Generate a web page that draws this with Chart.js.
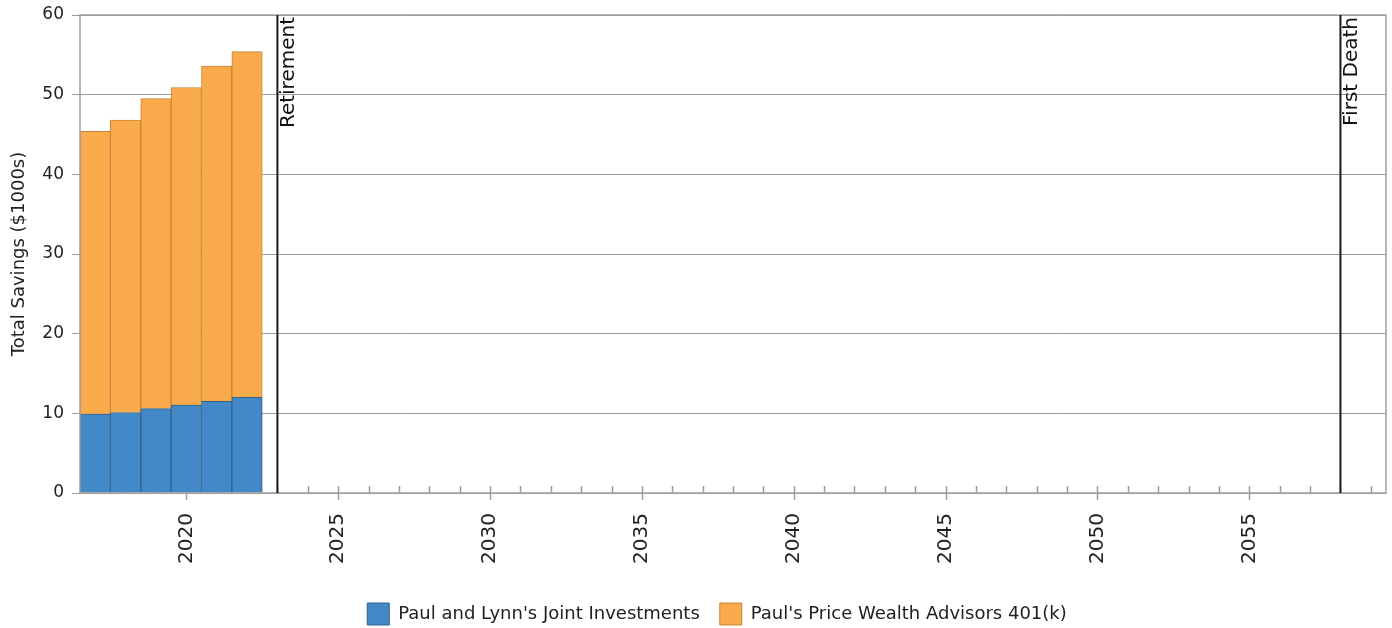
<!DOCTYPE html>
<html>
<head>
<meta charset="utf-8">
<script src="https://cdn.jsdelivr.net/npm/chart.js@4/dist/chart.umd.min.js"></script>
<style>
    html, body { margin: 0; padding: 0; background: #fff; }
    #wrap { width: 1392px; height: 628px; }
</style>
</head>
<body>
<div id="wrap"><canvas id="savingsChart" width="1392" height="628"></canvas></div>
<script>
// Savings projection - stacked bars per year

const years = [2017, 2018, 2019, 2020, 2021, 2022];
const jointInvestments = [9.9, 10.1, 10.6, 11.05, 11.5, 12.0];
const price401k = [35.5, 36.7, 38.9, 39.85, 42.1, 43.4];

const seriesLabels = ["Paul and Lynn's Joint Investments", "Paul's Price Wealth Advisors 401(k)"];

const tickYears = [];
for (let y = 2017; y <= 2059; y++) tickYears.push(y);

const eventYears = [2023, 2058];
const eventLabels = ['Retirement', 'First Death'];

const colors = {
    joint: '#4389c7',
    jointBorder: '#33608a',
    price: '#f9aa4b',
    priceBorder: '#c98535'
};

const gridColor = '#9a9a9a';
const textColor = '#222';

// Plot frame, year tick marks and the event lines
const decorPlugin = {
    id: 'decor',
    afterLayout(chart) {
        // legend sits a bit right of the canvas centre
        chart.legend.left += 24;
        chart.legend.right += 24;
    },
    beforeDatasetsDraw(chart) {
        const ctx = chart.ctx;
        const area = chart.chartArea;
        const x = chart.scales.x;

        // year ticks: every year inside, every 5 years crossing the axis
        ctx.save();
        ctx.strokeStyle = gridColor;
        ctx.lineWidth = 1.5;
        tickYears.forEach(v => {
            const px = Math.round(x.getPixelForValue(v)) + 0.5;
            const major = v % 5 === 0;
            ctx.beginPath();
            ctx.moveTo(px, area.bottom - 7);
            ctx.lineTo(px, area.bottom + (major ? 7 : 0));
            ctx.stroke();
        });
        ctx.restore();
    },
    afterDatasetsDraw(chart) {
        const ctx = chart.ctx;
        const area = chart.chartArea;
        const x = chart.scales.x;

        ctx.save();
        // frame
        ctx.strokeStyle = '#a0a0a0';
        ctx.lineWidth = 1.5;
        ctx.strokeRect(area.left, area.top, area.right - area.left, area.bottom - area.top);

        // event lines
        ctx.strokeStyle = '#1a1a1a';
        ctx.lineWidth = 2;
        ctx.fillStyle = '#111';
        ctx.font = '20px "DejaVu Sans"';
        eventYears.forEach((v, i) => {
            const px = x.getPixelForValue(v);
            ctx.beginPath();
            ctx.moveTo(px, area.top);
            ctx.lineTo(px, area.bottom);
            ctx.stroke();

            ctx.save();
            ctx.translate(px + 1, area.top + 2);
            ctx.rotate(-Math.PI / 2);
            ctx.textAlign = 'right';
            ctx.textBaseline = 'top';
            ctx.fillText(eventLabels[i], 0, 0);
            ctx.restore();
        });
        ctx.restore();
    }
};

function renderChart() {
    const ctx = document.getElementById('savingsChart');

    new Chart(ctx, {
        type: 'bar',
        data: {
            datasets: [
                {
                    label: seriesLabels[0],
                    data: years.map((yr, i) => ({ x: yr, y: jointInvestments[i] })),
                    backgroundColor: colors.joint,
                    borderColor: colors.jointBorder,
                    borderWidth: 1,
                    barPercentage: 1,
                    categoryPercentage: 1
                },
                {
                    label: seriesLabels[1],
                    data: years.map((yr, i) => ({ x: yr, y: price401k[i] })),
                    backgroundColor: colors.price,
                    borderColor: colors.priceBorder,
                    borderWidth: 1,
                    barPercentage: 1,
                    categoryPercentage: 1
                }
            ]
        },
        options: {
            responsive: false,
            animation: false,
            layout: {
                padding: { top: 15, right: 6, left: 0, bottom: -7 }
            },
            scales: {
                x: {
                    type: 'linear',
                    stacked: true,
                    offset: false,
                    min: 2016.5,
                    max: 2059.5,
                    afterBuildTicks: function(scale) {
                        scale.ticks = tickYears.map(v => ({ value: v }));
                    },
                    afterFit: function(scale) {
                        scale.height = 90;
                        scale.paddingLeft = 0;
                        scale.paddingRight = 0;
                    },
                    grid: { display: false, drawTicks: false },
                    border: { display: false },
                    ticks: {
                        autoSkip: false,
                        minRotation: 90,
                        maxRotation: 90,
                        padding: 20,
                        color: textColor,
                        font: { family: 'DejaVu Sans', size: 20 },
                        callback: function(value) {
                            return value % 5 === 0 ? String(value) : '';
                        }
                    }
                },
                y: {
                    stacked: true,
                    min: 0,
                    max: 60,
                    afterFit: function(scale) {
                        scale.width = 80;
                        scale.paddingTop = 0;
                        scale.paddingBottom = 0;
                    },
                    grid: {
                        color: gridColor,
                        lineWidth: 1,
                        tickLength: 8
                    },
                    border: { display: false },
                    ticks: {
                        stepSize: 10,
                        padding: 8,
                        color: textColor,
                        font: { family: 'DejaVu Sans', size: 17 }
                    },
                    title: {
                        display: true,
                        text: 'Total Savings ($1000s)',
                        color: textColor,
                        padding: { top: 9, bottom: 0 },
                        font: { family: 'DejaVu Sans', size: 18 }
                    }
                }
            },
            plugins: {
                legend: {
                    position: 'bottom',
                    labels: {
                        color: textColor,
                        boxWidth: 22,
                        boxHeight: 22,
                        padding: 20,
                        font: { family: 'DejaVu Sans', size: 18 }
                    }
                },
                tooltip: { enabled: false }
            }
        },
        plugins: [decorPlugin]
    });
}

renderChart();
</script>
</body>
</html>
